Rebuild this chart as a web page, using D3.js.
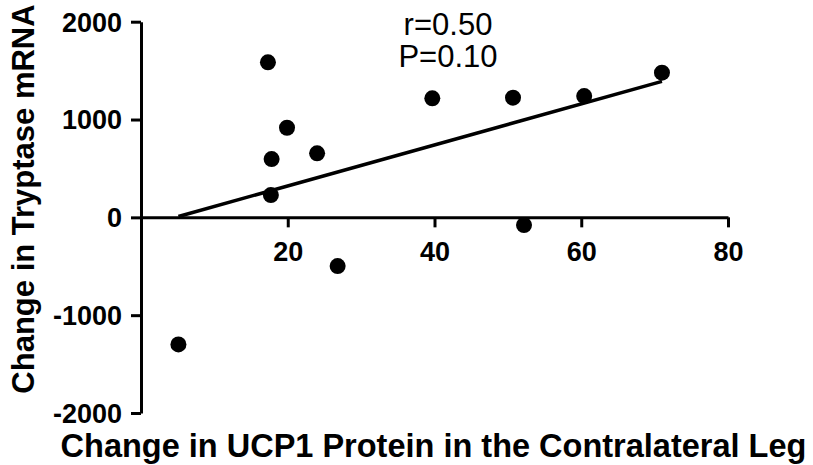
<!DOCTYPE html>
<html>
<head>
<meta charset="utf-8">
<script src="https://cdn.jsdelivr.net/npm/d3@7"></script>
<style>
  html, body { margin: 0; padding: 0; background: #fff; }
  svg { display: block; }
  text { font-family: "Liberation Sans", Arial, sans-serif; }
</style>
</head>
<body>
<svg id="chart" width="813" height="465"></svg>
<script>
// ---- Data ----
const ucp1Change = [17.3, 17.8, 17.7, 19.9, 24.0, 5.1, 26.8, 39.7, 50.7, 60.4, 71.0, 52.2];
const tryptaseChange = [1585, 596, 228, 916, 654, -1299, -498, 1217, 1223, 1240, 1479, -79];
const xTicks = [20, 40, 60, 80];
const yTicks = [-2000, -1000, 0, 1000, 2000];
const annotationLines = ["r=0.50", "P=0.10"];
const xTitle = "Change in UCP1 Protein in the Contralateral Leg";
const yTitle = "Change in Tryptase mRNA";

const svg = d3.select("#chart");
const x = d3.scaleLinear().domain([0, 80]).range([141, 728]);
const y = d3.scaleLinear().domain([-2000, 2000]).range([413, 21.7]);

// Y axis
const yAxis = svg.append("g")
  .attr("transform", `translate(${x(0)},0)`)
  .call(d3.axisLeft(y).tickValues(yTicks).tickSize(10).tickSizeOuter(0).tickPadding(9).tickFormat(d => String(d)));
// X axis at y=0
const xAxis = svg.append("g")
  .attr("transform", `translate(0,${y(0)})`)
  .call(d3.axisBottom(x).tickValues(xTicks).tickSize(10).tickSizeOuter(0).tickPadding(14).tickFormat(d => String(d)));

[yAxis, xAxis].forEach(g => {
  g.selectAll("path.domain").attr("stroke", "#000").attr("stroke-width", 3);
  g.selectAll(".tick line").attr("stroke", "#000").attr("stroke-width", 3);
  g.selectAll(".tick text")
    .attr("fill", "#000")
    .style("font-family", '"Liberation Sans", Arial, sans-serif')
    .style("font-size", "27px")
    .style("font-weight", "bold");
});
yAxis.selectAll(".tick text").attr("dy", "0.35em");

// Regression line computed from the data
const mx = d3.mean(ucp1Change), my = d3.mean(tryptaseChange);
let sxy = 0, sxx = 0;
ucp1Change.forEach((v, i) => { sxy += (v - mx) * (tryptaseChange[i] - my); sxx += (v - mx) * (v - mx); });
const slope = sxy / sxx, intercept = my - slope * mx;
const xmin = d3.min(ucp1Change), xmax = d3.max(ucp1Change);
svg.append("line")
  .attr("x1", x(xmin)).attr("y1", y(intercept + slope * xmin))
  .attr("x2", x(xmax)).attr("y2", y(intercept + slope * xmax))
  .attr("stroke", "#000").attr("stroke-width", 3.5);

// Points
svg.append("g").selectAll("circle")
  .data(ucp1Change.map((v, i) => [v, tryptaseChange[i]]))
  .join("circle")
  .attr("cx", d => x(d[0]))
  .attr("cy", d => y(d[1]))
  .attr("r", 8)
  .attr("fill", "#000");

// Annotation
svg.append("g").selectAll("text")
  .data(annotationLines)
  .join("text")
  .attr("x", 448)
  .attr("y", (d, i) => 35 + i * 31.7)
  .attr("text-anchor", "middle")
  .style("font-size", "31px")
  .attr("fill", "#000")
  .text(d => d);

// Axis titles
svg.append("text")
  .attr("x", 433.5).attr("y", 457)
  .attr("text-anchor", "middle")
  .style("font-size", "32.5px").style("font-weight", "bold")
  .attr("fill", "#000")
  .text(xTitle);

svg.append("text")
  .attr("transform", "translate(34,199) rotate(-90)")
  .attr("text-anchor", "middle")
  .style("font-size", "31px").style("font-weight", "bold")
  .attr("fill", "#000")
  .text(yTitle);
</script>
</body>
</html>
